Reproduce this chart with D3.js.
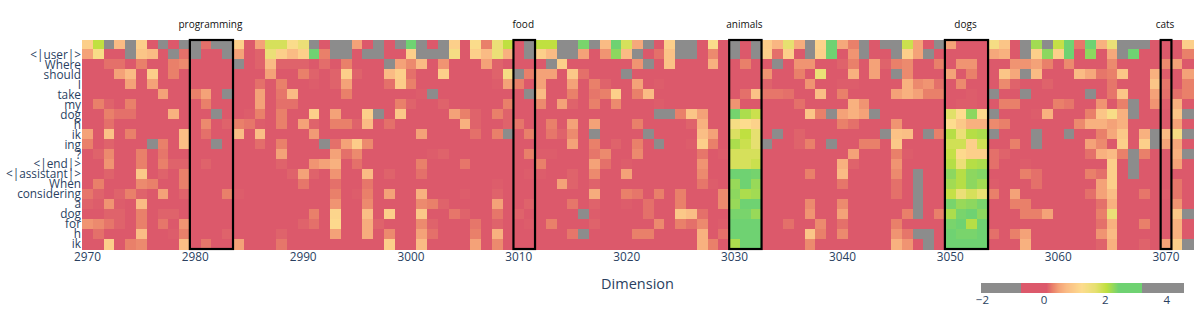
<!DOCTYPE html>
<html>
<head>
<meta charset="utf-8">
<script src="https://cdn.jsdelivr.net/npm/d3@7"></script>
<style>
    html, body { margin: 0; padding: 0; background: #fff; }
    svg { display: block; }
    text { font-family: "Open Sans", verdana, sans-serif; }
</style>
</head>
<body>
<div id="chart"></div>
<script>
const dims = d3.range(2970, 3073);
const xTicks = [2970, 2980, 2990, 3000, 3010, 3020, 3030, 3040, 3050, 3060, 3070];
const tokens = ["", "<|user|>", "Where", "should", "I", "take", "my", "dog", "h", "ik", "ing", "?", "<|end|>", "<|assistant|>", "When", "considering", "a", "dog", "for", "h", "ik"];

// concept boxes: first and last dimension
const concepts = ["programming", "food", "animals", "dogs", "cats"];
const conceptFrom = [2980, 3010, 3030, 3050, 3070];
const conceptTo = [2983, 3011, 3032, 3053, 3070];

// mostly near zero, so each row only lists the dimensions that stand out
const row0 = {2970:1.05,2971:2.05,2972:-1,2973:.75,2974:-1,2975:1.05,2977:-1,2979:-1,2980:-1,2981:.22,2982:-1,2983:-1,2984:1.05,2986:.5,2987:1.85,2988:1.85,2989:1.3,2990:1.6,2991:-1,2993:-1,2994:-1,2995:.5,2997:-1,2999:-1,3000:2.6,3001:-1,3003:-1,3004:1.05,3006:1.3,3007:.3,3008:1.6,3009:2.05,3011:-1,3012:2.05,3013:2.05,3014:-1,3015:-1,3016:2.4,3017:-1,3018:.75,3019:2.6,3020:1.85,3021:.56,3022:-1,3024:1.05,3025:-1,3026:-1,3028:1.3,3030:-1,3032:-1,3033:1,3034:.7,3035:1.7,3036:.6,3037:-1,3038:1.1,3039:2.6,3040:.56,3041:.3,3042:-1,3044:-1,3045:-1,3046:1.95,3047:.5,3049:-1,3050:.5,3054:1.4,3055:.9,3057:-1,3058:2.2,3059:-1,3060:2,3061:2.6,3062:.25,3063:2.6,3064:.65,3065:1.6,3066:-1,3067:-1,3068:-1,3072:1.05};
const row1 = {2970:.5,2971:1.35,2974:-1,2975:.9,2976:.75,2978:-1,2979:.22,2980:-1,2983:-1,2984:.5,2986:.15,2987:1.6,2988:1.05,2989:.75,2990:1.05,2991:2.6,2992:.3,2993:-1,2994:-1,2996:-1,2997:-1,3000:1.05,3001:-1,3002:-1,3003:-1,3004:1.4,3006:1.05,3007:.75,3008:1.6,3009:.65,3011:-1,3012:1.05,3013:.75,3014:-1,3015:-1,3016:.5,3018:.42,3019:2.3,3020:.75,3021:-1,3023:.22,3024:.85,3025:-1,3026:-1,3028:.36,3030:-1,3032:-1,3033:1.05,3034:.22,3035:1.05,3037:-1,3038:1.05,3039:2.6,3041:.42,3042:-1,3045:-1,3046:1.05,3047:.5,3048:-1,3054:.56,3055:.65,3057:-1,3058:1.05,3059:2.3,3060:1.05,3061:2.6,3063:2.3,3065:.56,3066:-1,3067:2.6,3072:.3};
const row2 = {2972:.22,2973:.22,2975:.3,2978:.3,2979:.36,2984:-1,2986:.15,2987:.75,2988:.15,2989:.15,2990:.15,2992:.2,2994:.3,2998:-1,2999:.5,3000:.36,3001:.75,3003:.42,3006:.1,3007:.5,3008:.15,3013:-1,3014:1.05,3021:.42,3022:-1,3024:.85,3028:.65,3031:.3,3034:-1,3036:.42,3037:.42,3040:.15,3041:.3,3043:.5,3044:.15,3045:.3,3046:.36,3049:.3,3051:.42,3052:.42,3056:.42,3057:.42,3058:.5,3059:.3,3061:.36,3065:.36,3070:.36,3071:.5};
const row3 = {2973:.5,2974:.75,2976:1.05,2978:.3,2987:.5,2990:.3,2991:.15,2993:.15,2994:1.05,2995:.15,2998:.75,2999:1.05,3000:.22,3003:1.05,3008:.15,3009:1.4,3010:-1,3011:.3,3012:.5,3013:.5,3015:.95,3016:.22,3020:-1,3033:.42,3036:.3,3038:1.6,3041:.65,3043:.5,3045:-1,3046:.36,3050:.5,3052:.3,3055:.9,3056:.56,3057:-1,3058:.75,3062:.75,3063:.56,3064:.25,3065:.3,3066:.9,3069:.65,3070:.12,3072:.5};
const row4 = {2974:.5,2976:.5,2986:.22,2988:.3,2991:.12,2993:.15,2994:.5,2998:.22,2999:1,3000:.3,3008:.12,3009:.5,3010:.3,3012:.5,3015:.5,3017:.3,3018:.15,3021:.5,3023:.12,3033:.15,3037:.42,3040:.12,3041:.12,3046:.65,3047:.36,3048:.42,3049:.22,3051:.36,3055:.36,3056:.15,3059:.15,3065:.25,3069:.9,3070:.25,3072:.3};
const row5 = {2977:.5,2980:.3,2981:.5,2983:-1,2986:.5,2988:.25,2989:.75,2994:.3,3001:.12,3002:-1,3011:-1,3012:.75,3015:.3,3017:.25,3018:.3,3019:1.05,3021:.3,3022:.75,3031:.22,3032:.85,3033:.25,3034:.25,3035:.22,3038:.8,3040:.3,3045:.5,3046:.65,3047:.5,3048:.3,3049:.3,3052:.12,3054:-1,3057:-1,3063:-1,3065:.25,3066:.9,3069:.5,3070:.22,3071:.22,3072:.3};
const row6 = {2971:.3,2972:.15,2974:.3,2981:.3,2986:.5,2988:.22,2989:.22,2999:.3,3000:.15,3003:.15,3009:.3,3012:.36,3014:.5,3015:.15,3017:.3,3019:.36,3023:.12,3030:.42,3036:.22,3041:.65,3042:.42,3051:.12,3052:.12,3055:.3,3056:.3,3060:.3,3061:.25,3064:.42,3066:.3,3067:-1,3069:.42,3070:.12,3071:.65};
const row7 = {2972:.3,2973:.22,2974:.22,2978:.65,2982:-1,2985:.12,2986:.3,2988:.3,2991:1.05,2993:.5,2996:1.05,2997:-1,2999:.95,3004:.5,3005:.3,3006:.15,3008:.3,3009:.15,3023:-1,3024:-1,3025:.3,3026:.9,3027:.5,3030:2.42,3031:2.15,3032:1.95,3037:.9,3038:.3,3039:-1,3040:.5,3041:.65,3042:.5,3043:-1,3050:1.75,3051:1.25,3052:2.3,3053:1.2,3054:-1,3058:.12,3059:.65,3063:.3,3064:.9,3065:1.35,3066:.65,3067:-1,3071:.9,3072:-1};
const row8 = {2972:.22,2981:.36,2983:.15,2984:.3,2985:.25,2986:.12,2988:.3,2990:.5,2991:.15,2993:.3,2994:.3,2995:.15,2996:.75,2998:.22,3005:.65,3006:.15,3009:.15,3010:.25,3013:.3,3015:.5,3017:.5,3021:.3,3026:.15,3027:.65,3030:1.4,3031:1.25,3032:1.1,3040:.3,3041:.22,3045:.42,3050:1.25,3051:.95,3052:.65,3053:.65,3054:.36,3055:.3,3062:.36,3063:.65,3064:.65,3065:.5,3066:.65,3071:.5};
const row9 = {2970:.5,2972:.85,2974:.3,2979:.8,2981:.22,2984:.8,2986:.8,2991:.45,3001:.5,3006:.22,3008:.3,3009:-1,3011:.3,3013:.25,3014:.15,3015:.36,3017:-1,3022:-1,3027:.8,3028:.5,3030:1.8,3031:2.05,3032:1.7,3034:-1,3036:.15,3044:-1,3045:.85,3046:.8,3048:-1,3049:.3,3050:2.1,3051:1.6,3052:2.1,3053:2.15,3054:-1,3058:-1,3061:-1,3064:.3,3065:.56,3066:.95,3068:.65,3069:-1,3070:.75,3071:1.4,3072:-1};
const row10 = {2970:.3,2972:.15,2976:-1,2977:.3,2979:.8,2982:-1,2986:.2,2988:.3,2992:-1,2993:.22,2994:.5,2995:1,2996:.36,3015:.5,3017:.3,3019:.15,3021:.3,3023:-1,3026:.12,3027:1.05,3028:.3,3030:2.15,3031:1.95,3032:1.7,3033:-1,3036:.15,3037:.3,3039:-1,3042:.3,3043:.3,3045:.95,3050:1.9,3051:1.9,3052:1.05,3053:1.9,3056:.3,3058:-1,3063:.5,3064:.36,3066:1.05,3068:1.05,3069:-1,3070:.5,3071:.56};
const row11 = {2971:.15,2972:.36,2975:.3,2977:.25,2988:.5,2993:.5,2994:.22,2995:.36,3002:.12,3003:.15,3011:.3,3012:.12,3013:.12,3017:.25,3018:.36,3021:.36,3027:.25,3029:.12,3030:1.85,3031:1.85,3032:1.85,3041:.5,3045:.3,3046:.12,3050:2,3051:1.2,3052:1.05,3053:1.05,3054:.22,3055:.15,3063:.22,3064:.65,3065:.75,3066:.3,3067:-1,3068:.3,3071:.65,3072:-1};
const row12 = {2972:.42,2975:.3,2977:.3,2978:.15,2979:.15,2981:.15,2988:.15,2991:.42,2992:.5,2993:.65,2995:.22,3001:.3,3005:.25,3012:.3,3017:.5,3018:.22,3020:.12,3027:.42,3030:1.85,3031:1.85,3032:1.95,3040:.65,3041:.15,3045:.42,3050:2.1,3051:1.6,3052:2.1,3053:2.15,3054:.22,3057:.12,3065:1.05,3067:-1,3071:.5};
const row13 = {2972:.15,2975:.95,2977:.15,2979:.3,2989:.15,2990:.5,2991:.15,2993:.42,2996:.75,2998:.15,3001:.22,3011:.12,3012:.12,3015:.15,3017:.36,3020:.5,3027:.36,3030:2.5,3031:2.6,3032:2.42,3037:.3,3040:.75,3045:.36,3047:-1,3050:2.3,3051:2.1,3052:2.3,3053:2.35,3057:.3,3058:.22,3063:.3,3064:.22,3065:1.05,3067:-1};
const row14 = {2971:.3,2975:.36,2976:.3,2979:.3,2990:.25,2993:.22,2996:.25,3008:.12,3014:.5,3015:.15,3017:.15,3027:.25,3028:.12,3030:2.25,3031:2.55,3032:2.25,3040:.25,3045:.22,3047:-1,3050:2.2,3051:2.1,3052:2.3,3053:2.2,3054:.12,3058:.22,3064:.5,3065:1.05,3071:.25};
const row15 = {2970:.25,2971:.15,2973:.15,2974:.3,2975:.15,2977:.5,2979:.15,2983:.3,2984:.12,2993:.3,2995:.12,2996:.3,2998:.5,3001:.65,3005:.12,3008:.15,3017:.6,3020:.3,3021:.25,3023:.3,3025:.3,3029:.36,3030:2.3,3031:2.15,3032:2.2,3045:.22,3047:-1,3050:2,3051:1.6,3052:1.85,3053:1.65,3054:.3,3056:.5,3063:.22,3064:.5,3065:.8,3068:.25,3070:.12,3071:.25};
const row16 = {2970:.15,2971:.12,2972:.42,2973:.12,2975:.75,2993:.42,2996:.36,3001:.36,3002:.3,3003:.15,3008:.5,3010:.1,3011:.15,3015:.25,3017:.15,3020:.12,3022:.22,3025:.3,3029:.36,3030:2.25,3031:2.55,3032:2.55,3037:.36,3040:.36,3047:-1,3050:2.4,3051:2.25,3052:2.3,3053:2.4,3056:.3,3057:.3,3064:.22,3065:.65,3071:.42};
const row17 = {2972:.15,2973:.15,2975:.3,2977:.15,2978:.15,2991:.3,2993:1.15,2996:.8,2998:1.05,3001:.95,3004:.25,3005:.15,3008:.25,3010:.15,3016:-1,3017:.12,3022:.22,3025:.95,3026:.8,3027:.22,3030:2.4,3031:2.4,3032:2.25,3037:.42,3040:.5,3046:.3,3047:-1,3049:.3,3050:2.15,3051:2.4,3052:2.6,3053:2.3,3057:.3,3058:.3,3059:.5,3064:.3,3065:1.6,3071:.95,3072:-1};
const row18 = {2970:.42,2971:.36,2972:.25,2973:.15,2975:.3,2977:.25,2979:.42,2990:.15,2991:.22,2993:1.2,2996:.6,2997:.15,3001:.36,3002:.15,3006:.25,3008:.15,3011:.12,3013:.3,3017:.15,3023:.36,3025:.3,3026:.22,3027:.36,3029:.12,3030:2.5,3031:2.5,3032:2.5,3035:.22,3038:.36,3040:.22,3045:.3,3050:2.4,3051:2.5,3052:2.1,3053:2.55,3064:.22,3065:.65,3068:.3,3071:.65};
const row19 = {2971:.22,2975:.8,2978:.12,2979:.3,2983:.15,2988:.15,2993:.5,2996:.6,2998:.36,3001:.5,3002:.22,3006:.3,3008:.65,3015:.25,3016:-1,3021:.3,3022:.3,3027:.65,3029:.22,3030:2.6,3031:2.6,3032:2.55,3037:.9,3038:.3,3040:.36,3045:.42,3046:.25,3047:-1,3048:-1,3050:2.6,3051:2.4,3052:2.4,3053:2.6,3054:.22,3056:.3,3057:.5,3064:.42,3065:.75,3071:.65};
const row20 = {2972:1.05,2974:.3,2975:.36,2979:.8,2981:.25,2984:.5,2988:.25,2998:1.05,3001:.75,3006:.5,3008:.36,3027:.65,3028:.3,3030:2.15,3031:2.5,3032:2.55,3037:.36,3045:.65,3046:.42,3048:-1,3050:2.6,3051:2.6,3052:2.6,3053:2.6,3057:.65,3064:.15,3065:.65,3068:.15,3070:.5,3071:1.05,3072:-1};
const rows = [row0, row1, row2, row3, row4, row5, row6, row7, row8, row9, row10, row11, row12, row13, row14, row15, row16, row17, row18, row19, row20];

const cbarTicks = [-2, 0, 2, 4];

const cfg = {
    width: 1202,
    height: 312,
    left: 82,
    right: 1193,
    top: 39.5,
    bottom: 249,
    cbarLeft: 981,
    cbarRight: 1183,
    cbarTop: 283,
    cbarBottom: 293,
    tickColor: "#2a3f5f",
    grey: "#8c8c8c",
    lowCut: -0.72,
    highCut: 3.2,
};

// values outside the cuts are greyed out
const ramp = d3.scaleLinear()
    .domain([0.1, 0.3, 0.5, 0.75, 1.25, 1.7, 2.05, 2.45])
    .range(["#dc596b", "#e9806a", "#f4a278", "#fabb84", "#fddc8e", "#e6e070", "#c0e040", "#6fd272"])
    .clamp(true);

function colorFor(v) {
    return v < cfg.lowCut || v > cfg.highCut ? cfg.grey : ramp(v);
}

const svg = d3.select("#chart")
    .append("svg")
    .attr("width", cfg.width)
    .attr("height", cfg.height);

const x = d3.scaleBand().domain(dims).range([cfg.left, cfg.right]);
const y = d3.scaleBand().domain(d3.range(tokens.length)).range([cfg.top, cfg.bottom]);

// heatmap cells
const cells = d3.cross(d3.range(rows.length), dims, (r, d) => ({ r: r, d: d, v: rows[r][d] || 0 }));
svg.append("g")
    .attr("shape-rendering", "crispEdges")
    .selectAll("rect")
    .data(cells)
    .join("rect")
    .attr("x", c => x(c.d))
    .attr("y", c => y(c.r))
    .attr("width", x.bandwidth() + 0.5)
    .attr("height", y.bandwidth() + 0.5)
    .attr("fill", c => colorFor(c.v));

// axes, tick marks and domain lines dropped
const xAxis = svg.append("g")
    .attr("transform", `translate(0,${cfg.bottom})`)
    .call(d3.axisBottom(x).tickValues(xTicks).tickSize(0).tickPadding(4).tickFormat(d3.format("d")));
const yAxis = svg.append("g")
    .attr("transform", `translate(${cfg.left},0.5)`)
    .call(d3.axisLeft(y).tickSize(0).tickPadding(1).tickFormat(i => tokens[i]));
[xAxis, yAxis].forEach(a => {
    a.select(".domain").remove();
    a.selectAll("text")
        .attr("fill", cfg.tickColor)
        .style("font-family", '"Open Sans", verdana, sans-serif')
        .style("font-size", "11.8px");
});

svg.append("text")
    .attr("x", (cfg.left + cfg.right) / 2)
    .attr("y", 289)
    .attr("text-anchor", "middle")
    .attr("fill", cfg.tickColor)
    .style("font-size", "14.5px")
    .text("Dimension");

// concept boxes and their labels
concepts.forEach((name, i) => {
    const x0 = x(conceptFrom[i]);
    const x1 = x(conceptTo[i]) + x.bandwidth();
    svg.append("rect")
        .attr("x", x0)
        .attr("y", cfg.top + 0.5)
        .attr("width", x1 - x0)
        .attr("height", cfg.bottom - cfg.top - 0.5)
        .attr("fill", "none")
        .attr("stroke", "#000")
        .attr("stroke-width", 2.2);
    svg.append("text")
        .attr("x", (x0 + x1) / 2 - 1)
        .attr("y", 28)
        .attr("text-anchor", "middle")
        .attr("fill", "#111")
        .style("font-size", "10px")
        .text(name);
});

// colorbar
const cbarScale = d3.scaleLinear().domain([-2.03, 4.54]).range([cfg.cbarLeft, cfg.cbarRight]);
svg.append("g")
    .attr("shape-rendering", "crispEdges")
    .selectAll("rect")
    .data(d3.range(cfg.cbarLeft, cfg.cbarRight))
    .join("rect")
    .attr("x", px => px)
    .attr("y", cfg.cbarTop)
    .attr("width", 1.5)
    .attr("height", cfg.cbarBottom - cfg.cbarTop)
    .attr("fill", px => colorFor(cbarScale.invert(px + 0.5)));

const cbarAxis = svg.append("g")
    .attr("transform", `translate(0,${cfg.cbarBottom})`)
    .call(d3.axisBottom(cbarScale).tickValues(cbarTicks).tickSize(0).tickPadding(3).tickFormat(d3.format("d")));
cbarAxis.select(".domain").remove();
cbarAxis.selectAll("text")
    .attr("fill", cfg.tickColor)
    .style("font-family", '"Open Sans", verdana, sans-serif')
    .style("font-size", "11.5px");
</script>
</body>
</html>
